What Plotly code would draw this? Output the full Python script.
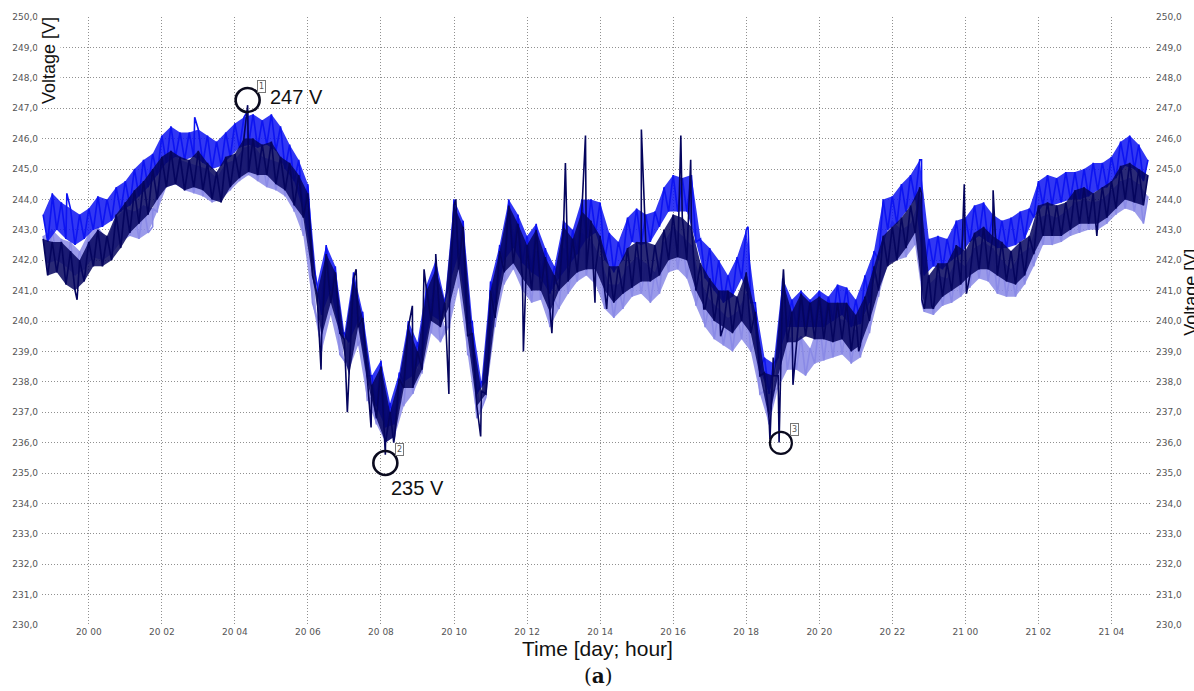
import plotly.graph_objects as go

# ---------------- data ----------------
# time in hours relative to day 20, 00:00.
# "hi" readings every 15 min from 19 22:45 to 21 05:00 (upper edge of each noisy band),
# "lo" readings half-way between them (lower edge of each band).
t_start, t_step = -1.25, 0.25

dark_hi = [242.7, 242.6, 242.6, 242.3, 242.0,
           242.6, 243.0, 242.8, 243.5,  243.9, 244.3, 244.6, 245.0,
           245.4, 245.6, 245.4, 245.3,  245.6, 245.2, 244.9, 245.4,
           245.5, 246.0, 246.0, 245.8,  245.9, 245.4, 245.2, 244.8,
           244.2, 240.9, 242.2, 241.6,  239.4, 241.4, 240.1, 237.9,
           238.5, 237.0, 238.1, 239.8,  239.0, 241.0, 241.7, 240.6,
           243.8, 243.1, 239.6, 237.7,  241.0, 242.3, 243.8, 243.2,
           242.5, 243.0, 242.1, 241.5,  243.1, 242.7, 243.6, 243.3,
           242.8, 241.8, 241.8, 242.4,  242.6, 242.6, 242.5, 243.0,
           243.5, 243.4, 243.1, 241.9,  241.4, 241.0, 241.0, 240.8,
           241.6, 240.3, 238.3, 238.2,  241.3, 240.3, 240.9, 240.6,
           240.8, 240.6, 240.6, 240.6,  240.2, 240.8, 241.8, 242.8,
           243.1, 243.4, 243.8, 244.4,  241.5, 241.9, 241.9, 242.5,
           242.3, 242.9, 243.1, 242.8,  242.6, 242.3, 242.6, 242.8,
           243.8, 243.9, 243.8, 243.9,  244.3, 244.4, 244.2, 244.4,
           244.6, 245.1, 245.2, 245.0,  244.8]
dark_lo = [241.5, 241.6, 241.2, 241.0, 241.3,
           241.8, 241.8, 242.0, 242.4,  242.9, 243.2, 243.5, 244.0,
           244.4, 244.5, 244.3, 244.4,  244.3, 244.0, 243.9, 244.4,
           244.7, 244.9, 244.8, 244.8,  244.5, 244.3, 243.8, 243.4,
           241.5, 239.5, 240.6, 239.6,  238.2, 239.8, 238.0, 236.8,
           236.0, 236.2, 237.8, 237.8,  238.4, 240.0, 239.8, 240.5,
           241.7, 239.5, 237.2, 237.6,  240.1, 241.6, 241.9, 241.4,
           241.0, 241.0, 240.3, 241.0,  241.3, 241.6, 241.7, 241.7,
           241.0, 240.6, 240.9, 241.1,  241.3, 241.3, 241.5, 242.0,
           242.1, 242.0, 241.0, 240.4,  240.0, 239.8, 239.6, 240.0,
           239.6, 238.2, 236.8, 238.2,  239.3, 239.3, 239.5, 239.4,
           239.4, 239.3, 239.4, 239.0,  239.2, 240.0, 241.0, 241.8,
           242.0, 242.4, 242.9, 240.4,  240.4, 240.8, 241.0, 241.2,
           241.5, 241.7, 241.7, 241.5,  241.3, 241.2, 241.5, 242.2,
           242.8, 242.8, 242.8, 243.0,  243.2, 243.2, 243.2, 243.4,
           243.7, 244.0, 243.9, 243.8]

blue_hi = [243.5, 244.2, 243.9, 243.7, 243.5,
           243.7, 244.1, 244.0, 244.4,  244.6, 245.0, 245.3, 245.5,
           246.1, 246.4, 246.2, 246.2,  246.3, 246.1, 245.9, 246.2,
           246.5, 246.7, 246.8, 246.6,  246.8, 246.4, 245.8, 245.3,
           244.5, 241.2, 242.5, 241.8,  239.6, 241.6, 240.3, 238.2,
           238.7, 237.3, 238.3, 240.0,  239.3, 241.2, 242.0, 240.7,
           244.0, 243.3, 240.0, 238.0,  241.3, 242.5, 244.0, 243.5,
           242.8, 243.2, 242.4, 241.8,  243.3, 243.0, 244.0, 244.0,
           243.9, 242.9, 242.6, 243.4,  243.7, 243.5, 243.6, 244.4,
           244.8, 244.7, 244.8, 242.7,  242.4, 242.0, 241.5, 242.1,
           243.0, 240.6, 238.8, 238.6,  241.4, 240.7, 241.0, 240.7,
           241.0, 240.8, 241.2, 241.1,  240.7, 241.5, 242.3, 244.0,
           244.1, 244.5, 244.8, 245.3,  242.7, 242.8, 242.7, 243.3,
           243.4, 243.8, 243.9, 243.5,  243.3, 243.4, 243.6, 243.7,
           244.6, 244.8, 244.7, 244.9,  244.9, 245.0, 245.2, 245.2,
           245.4, 245.9, 246.1, 245.8,  245.3]
blue_lo = [242.6, 243.0, 242.7, 242.5, 242.7,
           243.0, 243.1, 243.3, 243.6,  243.8, 244.1, 244.4, 244.8,
           245.2, 245.4, 245.3, 245.4,  245.2, 245.0, 245.1, 245.4,
           245.7, 245.8, 245.7, 245.8,  245.6, 245.0, 244.6, 243.6,
           242.0, 240.2, 241.0, 239.6,  239.3, 240.0, 238.2, 237.2,
           236.5, 236.6, 238.0, 238.2,  238.8, 240.2, 240.0, 241.2,
           242.2, 239.9, 237.6, 238.0,  240.6, 242.0, 242.4, 241.9,
           241.6, 241.4, 240.9, 241.4,  241.8, 242.2, 242.7, 242.9,
           242.0, 241.6, 242.0, 242.6,  242.5, 242.6, 243.1, 243.6,
           243.6, 243.6, 242.6, 241.4,  241.0, 240.6, 240.8, 241.4,
           240.6, 238.4, 237.6, 238.8,  239.8, 239.8, 239.8, 239.8,
           239.8, 240.0, 240.2, 239.8,  239.9, 240.6, 242.0, 243.0,
           243.2, 243.6, 244.0, 241.5,  241.8, 241.7, 242.0, 242.2,
           242.6, 242.8, 242.6, 242.4,  242.4, 242.5, 242.7, 243.4,
           243.8, 243.8, 243.9, 244.0,  244.0, 244.1, 244.3, 244.4,
           244.7, 245.1, 245.0, 244.6]

light_hi = [242.8, 243.0, 242.7, 242.6, 242.3,
            242.9, 243.1, 242.7, 243.4,  243.7, 243.6, 243.8, 243.7,
            245.0, 245.6, 245.3, 245.2,  245.1, 245.0, 244.7, 245.2,
            245.3, 245.7, 245.8, 245.4,  245.3, 245.2, 244.9, 244.4,
            243.6, 240.1, 241.8, 241.1,  238.7, 240.8, 239.5, 237.5,
            238.0, 236.9, 237.5, 239.1,  238.4, 240.5, 241.0, 239.8,
            243.1, 242.3, 238.8, 237.1,  240.3, 241.7, 243.3, 242.6,
            241.8, 242.3, 241.5, 240.7,  242.4, 242.1, 242.9, 242.7,
            242.1, 241.2, 241.2, 241.8,  242.1, 241.9, 241.6, 242.6,
            243.1, 242.8, 242.5, 241.3,  240.7, 240.4, 240.1, 240.3,
            240.9, 239.5, 237.7, 237.7,  240.3, 239.3, 239.5, 239.1,
            240.0, 239.9, 240.1, 240.0,  239.7, 240.2, 241.2, 242.7,
            243.3, 243.0, 243.2, 244.0,  241.2, 241.5, 241.4, 242.0,
            241.8, 242.4, 242.6, 242.4,  242.0, 241.7, 242.2, 242.4,
            243.4, 243.5, 243.4, 243.6,  243.9, 244.0, 243.9, 244.0,
            244.3, 244.6, 244.7, 244.5,  244.1]
light_lo = [241.9, 242.0, 241.8, 241.5, 241.7,
            242.1, 242.0, 242.2, 242.6,  242.8, 242.7, 242.9, 243.6,
            244.4, 244.5, 244.3, 244.2,  244.1, 243.9, 244.0, 244.3,
            244.6, 244.8, 244.6, 244.4,  244.3, 244.1, 243.6, 242.8,
            240.6, 239.0, 240.2, 238.9,  238.4, 239.2, 237.4, 236.6,
            236.0, 236.2, 237.2, 237.6,  238.3, 239.6, 239.3, 239.8,
            241.1, 238.9, 236.8, 237.5,  239.8, 241.2, 241.7, 241.0,
            240.6, 240.7, 239.8, 240.4,  240.9, 241.3, 241.5, 241.2,
            240.4, 240.1, 240.4, 240.8,  240.9, 240.6, 240.9, 241.6,
            241.7, 241.4, 240.5, 239.8,  239.4, 239.2, 239.0, 239.4,
            239.0, 237.6, 236.6, 237.8,  238.4, 238.4, 238.2, 238.6,
            238.7, 238.8, 238.9, 238.6,  238.8, 239.6, 240.8, 241.9,
            242.0, 242.1, 242.5, 240.3,  240.2, 240.5, 240.6, 240.8,
            241.1, 241.4, 241.3, 240.9,  240.8, 240.8, 241.2, 241.8,
            242.5, 242.5, 242.6, 242.8,  242.9, 243.0, 243.0, 243.2,
            243.5, 243.7, 243.6, 243.2]

# extra readings (short spikes / steps) at their own times
dark_spike_t = [-0.32, 4.35, 6.36, 7.08, 7.32, 7.73, 8.12, 8.35, 8.86, 9.18, 9.5, 9.86,
                10.05, 10.73, 10.95, 11.9, 12.68, 13.05, 13.6, 13.86, 14.18, 15.13, 16.21,
                16.48, 16.84, 17.3, 18.65, 18.74, 18.9, 19.02, 19.28, 21.08, 22.8, 22.81,
                23.08, 23.97, 24.03, 24.76, 27.6]
dark_spike_v = [240.7, 247.1, 238.4, 237.0, 241.7, 236.5, 235.6, 236.0, 240.5, 241.7, 242.2, 237.6,
                244.0, 236.2, 238.8, 239.0, 239.6, 245.2, 246.1, 240.6, 240.4, 246.3, 246.1,
                245.3, 240.4, 239.5, 236.1, 238.8, 236.0, 241.7, 237.9, 239.0, 244.2, 240.7,
                240.5, 244.5, 240.9, 244.3, 242.8]
blue_spike_t = [-1.0, -0.6, 2.9, 4.35, 18.05, 22.8, 22.81]
blue_spike_v = [244.0, 244.2, 246.7, 246.9, 243.1, 245.3, 242.2]
light_spike_t = [1.75, 17.57, 19.64, 22.8, 22.81]
light_spike_v = [243.1, 239.5, 238.3, 243.8, 240.6]

hour_ticks = list(range(0, 29, 2))
hour_labels = ["20 00", "20 02", "20 04", "20 06", "20 08", "20 10", "20 12", "20 14",
               "20 16", "20 18", "20 20", "20 22", "21 00", "21 02", "21 04"]
volt_ticks = list(range(230, 251))
volt_labels = [f"{v},0" for v in volt_ticks]

marker_t = [4.35, 8.12, 18.95]
marker_v = [247.27, 235.33, 235.99]
marker_ids = ["1", "2", "3"]
marker_text = ["247 V", "235 V", ""]

# ---------------- layout geometry ----------------
W, H = 1194, 691
L, R, T, B = 38, 1152, 17, 625
X_RANGE = [-1.28, 29.11]
Y_RANGE = [230, 250]


def px2paper(px, py):
    return (px - L) / (R - L), (B - py) / (B - T)


def series(hi, lo, st, sv):
    pts = [(t_start + i * t_step, v) for i, v in enumerate(hi)]
    pts += [(t_start + (i + 0.5) * t_step, v) for i, v in enumerate(lo)]
    pts += list(zip(st, sv))
    pts.sort()
    return [p[0] for p in pts], [p[1] for p in pts]


def band(hi, lo):
    th = [t_start + i * t_step for i in range(len(hi))]
    tl = [t_start + (i + 0.5) * t_step for i in range(len(lo))]
    return th + tl[::-1], list(hi) + list(lo)[::-1]


fig = go.Figure()
for hi, lo, st, sv, col, fillcol, name, ax in [
    (light_hi, light_lo, light_spike_t, light_spike_v, "#8a8ae6", "rgba(138,138,230,0.85)", "L3", "y"),
    (blue_hi, blue_lo, blue_spike_t, blue_spike_v, "#0d14f2", "rgba(13,20,242,0.85)", "L2", "y"),
    (dark_hi, dark_lo, dark_spike_t, dark_spike_v, "#05055e", "rgba(5,5,94,0.85)", "L1", "y2"),
]:
    bx, by = band(hi, lo)
    fig.add_trace(go.Scatter(x=bx, y=by, mode="lines", fill="toself", fillcolor=fillcol,
                             line=dict(width=0), yaxis=ax, showlegend=False,
                             hoverinfo="skip"))
    xs, ys = series(hi, lo, st, sv)
    fig.add_trace(go.Scatter(x=xs, y=ys, mode="lines", name=name, yaxis=ax,
                             line=dict(color=col, width=1.6), showlegend=False,
                             hoverinfo="skip"))

grid = dict(showgrid=True, gridcolor="#909090", gridwidth=1, griddash="1px,2px",
            zeroline=False, showline=False, ticks="")
tickfont = dict(family="DejaVu Sans", size=9, color="#555555")

fig.update_layout(
    width=W, height=H,
    margin=dict(l=L, r=W - R, t=T, b=H - B, pad=0),
    paper_bgcolor="white", plot_bgcolor="white",
    xaxis=dict(range=X_RANGE, tickvals=hour_ticks, ticktext=hour_labels,
               tickfont=tickfont, ticklabelstandoff=0, **grid),
    yaxis=dict(range=Y_RANGE, tickvals=volt_ticks, ticktext=volt_labels,
               tickfont=tickfont, side="left", ticklabelstandoff=3, **grid),
    yaxis2=dict(range=Y_RANGE, tickvals=volt_ticks, ticktext=volt_labels,
                tickfont=tickfont, side="right", overlaying="y",
                ticklabelstandoff=3, showgrid=False, zeroline=False,
                showline=False, ticks=""),
)

shapes = []
annotations = []
for i, (mt, mv, mid) in enumerate(zip(marker_t, marker_v, marker_ids)):
    r = 12 if i < 2 else 11
    shapes.append(dict(type="circle", xref="x", yref="y", xsizemode="pixel",
                       ysizemode="pixel", xanchor=mt, yanchor=mv,
                       x0=-r, x1=r, y0=-r, y1=r,
                       line=dict(color="#0a0a1e", width=2.6 if i < 2 else 2.2)))
    annotations.append(dict(xref="x", yref="y", x=mt, y=mv, xshift=14, yshift=13,
                            text=mid, showarrow=False, bgcolor="white",
                            bordercolor="#777777", borderwidth=1, borderpad=1,
                            font=dict(family="DejaVu Sans", size=8, color="#555555")))
annotations.append(dict(xref="x", yref="y", x=marker_t[0], y=marker_v[0], xshift=20,
                        yshift=3, xanchor="left", yanchor="middle", text=marker_text[0],
                        showarrow=False,
                        font=dict(family="Liberation Sans", size=20, color="#111111")))
annotations.append(dict(xref="x", yref="y", x=marker_t[1], y=marker_v[1], xshift=4,
                        yshift=-25, xanchor="left", yanchor="middle", text=marker_text[1],
                        showarrow=False,
                        font=dict(family="Liberation Sans", size=20, color="#111111")))


def label(px, py, text, size, family, angle=0, bg=None):
    x, y = px2paper(px, py)
    d = dict(xref="paper", yref="paper", x=x, y=y, xanchor="center", yanchor="middle",
             text=text, textangle=angle, showarrow=False,
             font=dict(family=family, size=size, color="#111111"))
    if bg:
        d["bgcolor"] = bg
    annotations.append(d)


label(45, 60, "Voltage [V]", 18, "Liberation Sans", -90, "white")
label(1191, 292, "Voltage [V]", 18, "Liberation Sans", -90)
label(596, 648, "Time [day; hour]", 21, "Liberation Sans")
label(597, 676, "(<b>a</b>)", 20, "DejaVu Serif")

fig.update_layout(shapes=shapes, annotations=annotations)
fig.write_html("out.html", config={"displayModeBar": False},
               post_script="document.body.style.margin='0';document.body.style.overflow='hidden';")
